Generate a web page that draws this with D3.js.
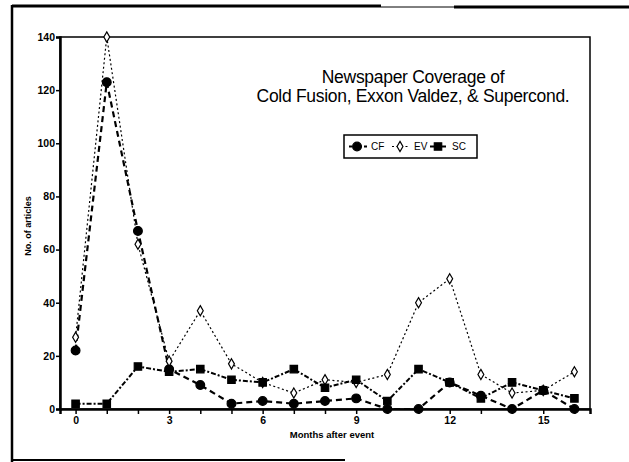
<!DOCTYPE html>
<html>
<head>
<meta charset="utf-8">
<script src="https://cdn.jsdelivr.net/npm/d3@7"></script>
<style>
  body { margin: 0; background: #fff; }
  svg { display: block; font-family: "Liberation Sans", Arial, sans-serif; }
</style>
</head>
<body>
<svg id="chart"></svg>
<script>
const width = 629;
const height = 462;

// data
const months = d3.range(0, 17);
const cf = [22, 123, 67, 15, 9, 2, 3, 2, 3, 4, 0, 0, 10, 5, 0, 7, 0];
const ev = [27, 140, 62, 18, 37, 17, 10, 6, 11, 10, 13, 40, 49, 13, 6, 7, 14];
const sc = [2, 2, 16, 14, 15, 11, 10, 15, 8, 11, 3, 15, 10, 4, 10, 7, 4];
const yTicks = [0, 20, 40, 60, 80, 100, 120, 140];
const xLabels = [0, 3, 6, 9, 12, 15];
const titleLines = ["Newspaper Coverage of", "Cold Fusion, Exxon Valdez, & Supercond."];

const svg = d3.select("#chart")
  .attr("width", width)
  .attr("height", height);

/* page frame (scanned sheet edges) */
svg.append("line").attr("x1", 12).attr("y1", 6).attr("x2", 381).attr("y2", 6)
  .attr("stroke", "#000").attr("stroke-width", 3);
svg.append("line").attr("x1", 381).attr("y1", 7).attr("x2", 454).attr("y2", 7)
  .attr("stroke", "#000").attr("stroke-width", 1);
svg.append("line").attr("x1", 454).attr("y1", 7).attr("x2", 629).attr("y2", 7)
  .attr("stroke", "#000").attr("stroke-width", 3);
svg.append("line").attr("x1", 12).attr("y1", 5).attr("x2", 12).attr("y2", 462)
  .attr("stroke", "#000").attr("stroke-width", 2.5);
svg.append("line").attr("x1", 12).attr("y1", 460).attr("x2", 345).attr("y2", 460)
  .attr("stroke", "#000").attr("stroke-width", 2);

/* scales */
const plot = { left: 60, right: 590, top: 37, bottom: 409 };

const x = d3.scaleLinear()
  .domain([-0.5, 16.5])
  .range([plot.left, plot.right]);

const y = d3.scaleLinear()
  .domain([0, 140])
  .range([plot.bottom, plot.top]);

/* plot box */
svg.append("rect")
  .attr("x", plot.left).attr("y", plot.top)
  .attr("width", plot.right - plot.left)
  .attr("height", plot.bottom - plot.top)
  .attr("fill", "none").attr("stroke", "#000").attr("stroke-width", 1.5);

/* axes */
const xAxis = svg.append("g")
  .attr("transform", `translate(0,${plot.bottom})`)
  .call(d3.axisBottom(x).tickValues(months).tickSize(5).tickPadding(2)
    .tickFormat(d => xLabels.includes(d) ? d : ""));

const yAxis = svg.append("g")
  .attr("transform", `translate(${plot.left},0)`)
  .call(d3.axisLeft(y).tickValues(yTicks).tickSize(4).tickPadding(1));

[xAxis, yAxis].forEach(g => {
  g.select(".domain").attr("stroke-width", 2.5);
  g.selectAll(".tick line").attr("stroke-width", 1.5);
  g.selectAll("text")
    .attr("font-family", "'Liberation Sans', Arial, sans-serif")
    .attr("font-size", 10.5)
    .attr("font-weight", "bold");
});
xAxis.selectAll("text").attr("dy", "0.72em");

svg.append("text")
  .attr("x", 332).attr("y", 438)
  .attr("text-anchor", "middle")
  .attr("font-size", 9.5).attr("font-weight", "bold")
  .text("Months after event");

svg.append("text")
  .attr("transform", "translate(31,226) rotate(-90)")
  .attr("text-anchor", "middle")
  .attr("font-size", 9).attr("font-weight", "bold")
  .text("No. of articles");

/* title */
svg.append("g").selectAll("text")
  .data(titleLines)
  .enter()
  .append("text")
  .attr("x", 413)
  .attr("y", (d, i) => 83 + i * 18.5)
  .attr("text-anchor", "middle")
  .attr("font-size", 17.5)
  .attr("letter-spacing", -0.3)
  .text(d => d);

/* series */
const series = [
  { name: "CF", values: cf, dash: "6,4", width: 2.2, symbol: d3.symbolCircle, size: 60, fill: "#000" },
  { name: "EV", values: ev, dash: "2,2.5", width: 1.2, symbol: d3.symbolDiamond, size: 30, fill: "#fff" },
  { name: "SC", values: sc, dash: "5,2,2,2", width: 2, symbol: d3.symbolSquare, size: 55, fill: "#000" }
];

const line = d3.line()
  .x((d, i) => x(months[i]))
  .y(d => y(d));

series.forEach(s => {
  svg.append("path")
    .datum(s.values)
    .attr("d", line)
    .attr("fill", "none")
    .attr("stroke", "#000")
    .attr("stroke-width", s.width)
    .attr("stroke-dasharray", s.dash);

  svg.append("g").selectAll("path")
    .data(s.values)
    .enter()
    .append("path")
    .attr("transform", (d, i) => `translate(${x(months[i])},${y(d)})`)
    .attr("d", d3.symbol().type(s.symbol).size(s.size))
    .attr("fill", s.fill)
    .attr("stroke", "#000")
    .attr("stroke-width", 1.2);
});

/* legend */
const legend = svg.append("g");
legend.append("rect")
  .attr("x", 344).attr("y", 135)
  .attr("width", 133).attr("height", 23)
  .attr("fill", "#fff").attr("stroke", "#000").attr("stroke-width", 1.5);

const legendX = [349, 392, 430];
series.forEach((s, i) => {
  const lx = legendX[i];
  legend.append("line")
    .attr("x1", lx).attr("y1", 146.5).attr("x2", lx + 18).attr("y2", 146.5)
    .attr("stroke", "#000").attr("stroke-width", s.width)
    .attr("stroke-dasharray", s.dash === "6,4" ? "3,2" : s.dash);
  legend.append("path")
    .attr("transform", `translate(${lx + 8},146.5)`)
    .attr("d", d3.symbol().type(s.symbol).size(s.size))
    .attr("fill", s.fill).attr("stroke", "#000").attr("stroke-width", 1.2);
  legend.append("text")
    .attr("x", lx + 22).attr("y", 150)
    .attr("font-size", 10)
    .text(s.name);
});
</script>
</body>
</html>
